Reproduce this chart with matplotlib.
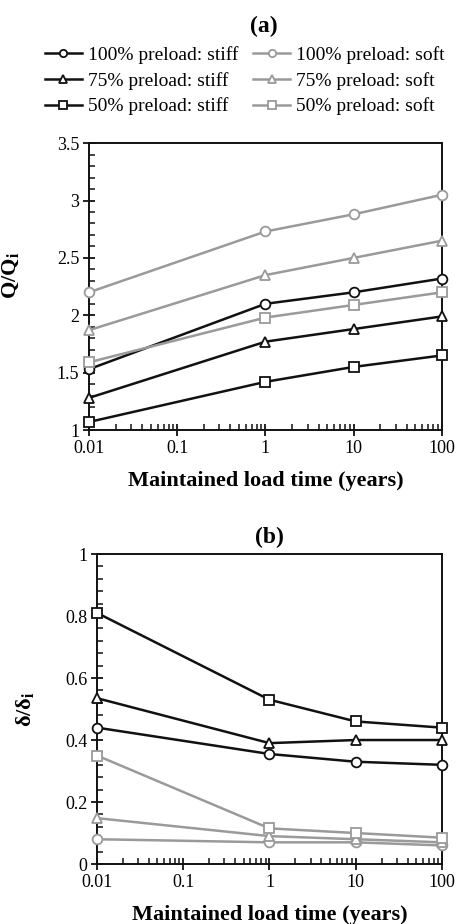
import numpy as np
import matplotlib
matplotlib.use("Agg")
import matplotlib.pyplot as plt
from matplotlib.ticker import FixedLocator, MultipleLocator, LogLocator, NullFormatter, FuncFormatter

plt.rcParams['font.family'] = ['Liberation Serif', 'DejaVu Serif']
plt.rcParams['mathtext.fontset'] = 'custom'
plt.rcParams['mathtext.rm'] = 'Liberation Serif'
plt.rcParams['mathtext.bf'] = 'Liberation Serif:bold'

years = [0.01, 1, 10, 100]
labels = ["100% preload: stiff", "75% preload: stiff", "50% preload: stiff",
          "100% preload: soft", "75% preload: soft", "50% preload: soft"]
markers = ['o', '^', 's', 'o', '^', 's']

# panel (a) Q/Qi
q_100_stiff = [1.53, 2.10, 2.20, 2.32]
q_75_stiff = [1.28, 1.77, 1.88, 1.99]
q_50_stiff = [1.07, 1.42, 1.55, 1.65]
q_100_soft = [2.20, 2.73, 2.88, 3.05]
q_75_soft = [1.87, 2.35, 2.50, 2.65]
q_50_soft = [1.59, 1.98, 2.09, 2.20]

# panel (b) delta/delta_i
d_100_stiff = [0.44, 0.355, 0.33, 0.32]
d_75_stiff = [0.535, 0.39, 0.40, 0.40]
d_50_stiff = [0.81, 0.53, 0.46, 0.44]
d_100_soft = [0.08, 0.07, 0.07, 0.06]
d_75_soft = [0.148, 0.09, 0.08, 0.07]
d_50_soft = [0.35, 0.115, 0.10, 0.085]

q_series = [q_100_stiff, q_75_stiff, q_50_stiff, q_100_soft, q_75_soft, q_50_soft]
d_series = [d_100_stiff, d_75_stiff, d_50_stiff, d_100_soft, d_75_soft, d_50_soft]

black = '#111111'
grey = '#9a9a9a'
colors = [black, black, black, grey, grey, grey]

fig = plt.figure(figsize=(4.57, 9.24), dpi=100)
ax1 = fig.add_axes([0.1947, 0.5346, 0.7723, 0.3105])
ax2 = fig.add_axes([0.2123, 0.0649, 0.7547, 0.3355])


def style(ax, ymin, ymax, major, minor):
    ax.set_xscale('log')
    ax.set_xlim(0.01, 100)
    ax.set_ylim(ymin, ymax)
    ax.xaxis.set_major_locator(FixedLocator([0.01, 0.1, 1, 10, 100]))
    ax.xaxis.set_major_formatter(FuncFormatter(lambda v, p: '%g' % v))
    ax.xaxis.set_minor_locator(LogLocator(base=10, subs=np.arange(2, 10)))
    ax.xaxis.set_minor_formatter(NullFormatter())
    ax.yaxis.set_major_locator(MultipleLocator(major))
    ax.yaxis.set_major_formatter(FuncFormatter(lambda v, p: '%g' % round(v, 2)))
    ax.yaxis.set_minor_locator(MultipleLocator(minor))
    ax.tick_params(which='major', direction='inout', length=8, width=1.3,
                   labelsize=13, color=black, pad=3)
    ax.tick_params(which='minor', direction='in', length=4, width=1.1, color=black)
    ax.tick_params(top=False, right=False, which='both')
    for s in ax.spines.values():
        s.set_linewidth(1.4)
        s.set_color(black)
    ax.set_xlabel('Maintained load time (years)', fontsize=16, fontweight='bold', labelpad=10)


for ax, series in [(ax1, q_series), (ax2, d_series)]:
    for vals, lab, m, c in zip(series, labels, markers, colors):
        ax.plot(years, vals, color=c, lw=1.8, marker=m, markersize=7,
                markerfacecolor='white', markeredgecolor=c, markeredgewidth=1.3,
                label=lab, clip_on=False, zorder=3)

style(ax1, 1, 3.5, 0.5, 0.1)
style(ax2, 0, 1, 0.2, 0.04)
ax1.set_ylabel(r'Q/Q$_\mathbf{i}$', fontsize=16, fontweight='bold')
ax1.yaxis.set_label_coords(-0.19, 0.54)
ax2.set_ylabel(r'$\mathbf{\delta}$/$\mathbf{\delta}_\mathbf{i}$', fontsize=16, fontweight='bold')
ax2.yaxis.set_label_coords(-0.175, 0.5)
ax2.set_title('(b)', fontsize=17, fontweight='bold', pad=8)

fig.text(0.577, 0.971, '(a)', fontsize=17, fontweight='bold', ha='center', va='center')

h, l = ax1.get_legend_handles_labels()
fig.legend(h, l, ncol=2, loc='upper left', bbox_to_anchor=(0.098, 0.950),
           frameon=False, fontsize=14, handlelength=1.9, handletextpad=0.3,
           columnspacing=0.8, labelspacing=0.4, borderpad=0, borderaxespad=0,
           markerscale=0.75)

fig.savefig('out.png', dpi=100)
